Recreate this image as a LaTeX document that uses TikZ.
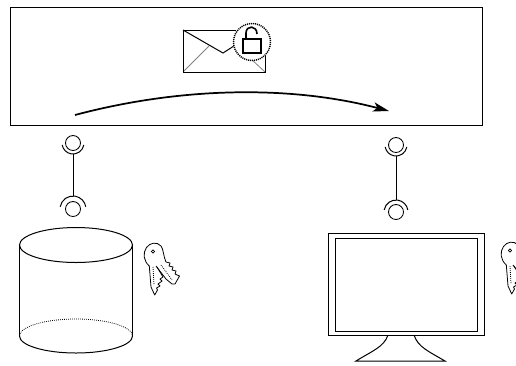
\documentclass[tikz,border=0pt]{standalone}
\usetikzlibrary{arrows.meta}
\tikzset{
 line/.style={draw=black,line width=0.75pt},
 thinline/.style={draw=black,line width=0.6pt},
 graybit/.style={draw=black!50,line width=0.6pt},
 dots/.style={draw=black,line width=0.6pt,dash pattern=on 0.6pt off 0.9pt},
 sock/.style={circle,draw=black,line width=0.65pt,minimum size=11.25pt,inner sep=0pt},
 cup/.style={draw=black,line width=0.75pt},
}
\newcommand{\keyicon}{%
 \draw[thinline,line join=round] (7.3,26) .. controls (1.5,21) and (0.5,13) .. (4.5,7.5)
   .. controls (8,2.5) and (15,1.5) .. (19,6)
   .. controls (21.5,9) and (21.5,17) .. (24,22)
   -- (28,23) -- (27,26) -- (31,27) -- (30,30) -- (34,31) -- (33,34) -- (37.5,36) -- (33,44) -- (30,44)
   -- (24,39) -- (14,26);
 \draw[thinline,line join=round] (7.3,26) -- (9,47) -- (12.7,55) -- (15.5,50) -- (14.5,48) -- (18,46) -- (16,44) -- (20,41) -- (18,39) -- (21,37) -- (15,27);
 \draw[thinline] (11,11.5) circle (1.6);
 \draw[dots] (11,27) -- (12,45);
 \draw[dots] (19,25) -- (30,40);
}
\begin{document}
\begin{tikzpicture}[x=0.75pt,y=-0.75pt]
\useasboundingbox (0,0) rectangle (516,365);
\node[draw=black,line width=0.75pt,minimum width=354pt,minimum height=88.5pt,inner sep=0pt,anchor=north west] (channel) at (10,7) {};
% envelope
\draw[graybit] (183,72) -- (209,46);
\draw[graybit] (265,72) -- (250,58);
\draw[line] (183,30) -- (183,72) -- (265,72) -- (265,50);
\draw[line] (183,30) -- (236,30);
\draw[line] (183,30) -- (223,53) -- (237,44);
% lock
\fill[white] (252,42) circle (19);
\draw[line width=1.1pt,dash pattern=on 0.8pt off 0.7pt] (252,42) circle (18.5);
\draw[line width=1.2pt] (243,39) rectangle (261,53);
\draw[line width=1.2pt] (246,39) -- (246,33) .. controls (246,25) and (257,25) .. (257,34);
% arrow
\coordinate (from) at (75,115);
\coordinate (to) at (389,111);
\draw[line width=1.3pt,-{Stealth[length=12pt,width=7pt,inset=3pt]}] (from) .. controls (180,87) and (290,85) .. (to);
% left sockets
\node[sock] (s1) at (73,143) {};
\node[sock] (s2) at (73,209) {};
\coordinate (c1) at (73,154);
\coordinate (c2) at (73,196);
\draw[line] (c1) -- (c2);
\draw[cup] (s1.center) ++(10:11) arc[start angle=10,end angle=170,radius=11];
\draw[cup] (s2.center) ++(190:13) arc[start angle=190,end angle=350,radius=13];
% right sockets
\node[sock] (s3) at (396,145) {};
\node[sock] (s4) at (396,212) {};
\coordinate (c3) at (396,156);
\coordinate (c4) at (396,200);
\draw[line] (c3) -- (c4);
\draw[cup] (s3.center) ++(10:11) arc[start angle=10,end angle=170,radius=11];
\draw[cup] (s4.center) ++(190:12) arc[start angle=190,end angle=350,radius=12];
% cylinder
\draw[line] (76,245) ellipse (56.5 and 17.5);
\draw[line] (19.5,245) -- (19.5,336);
\draw[line] (132.5,245) -- (132.5,336);
\draw[line] (19.5,336) arc[start angle=180,end angle=0,x radius=56.5,y radius=17];
\draw[dots] (19.5,336) arc[start angle=180,end angle=0,x radius=56.5,y radius=-17];
% keys
\begin{scope}[shift={(142,240)}]
\keyicon
\end{scope}
\begin{scope}
\clip (490,230) rectangle (516,310);
\begin{scope}[shift={(499,239)}]
\keyicon
\end{scope}
\end{scope}
% monitor
\draw[line] (328,233) rectangle (484,335);
\draw[line] (335,238) rectangle (477,331);
\draw[line] (388,335) .. controls (384,347) and (372,351) .. (356,361) -- (445,361) .. controls (428,351) and (418,347) .. (414,335);
\end{tikzpicture}
\end{document}
